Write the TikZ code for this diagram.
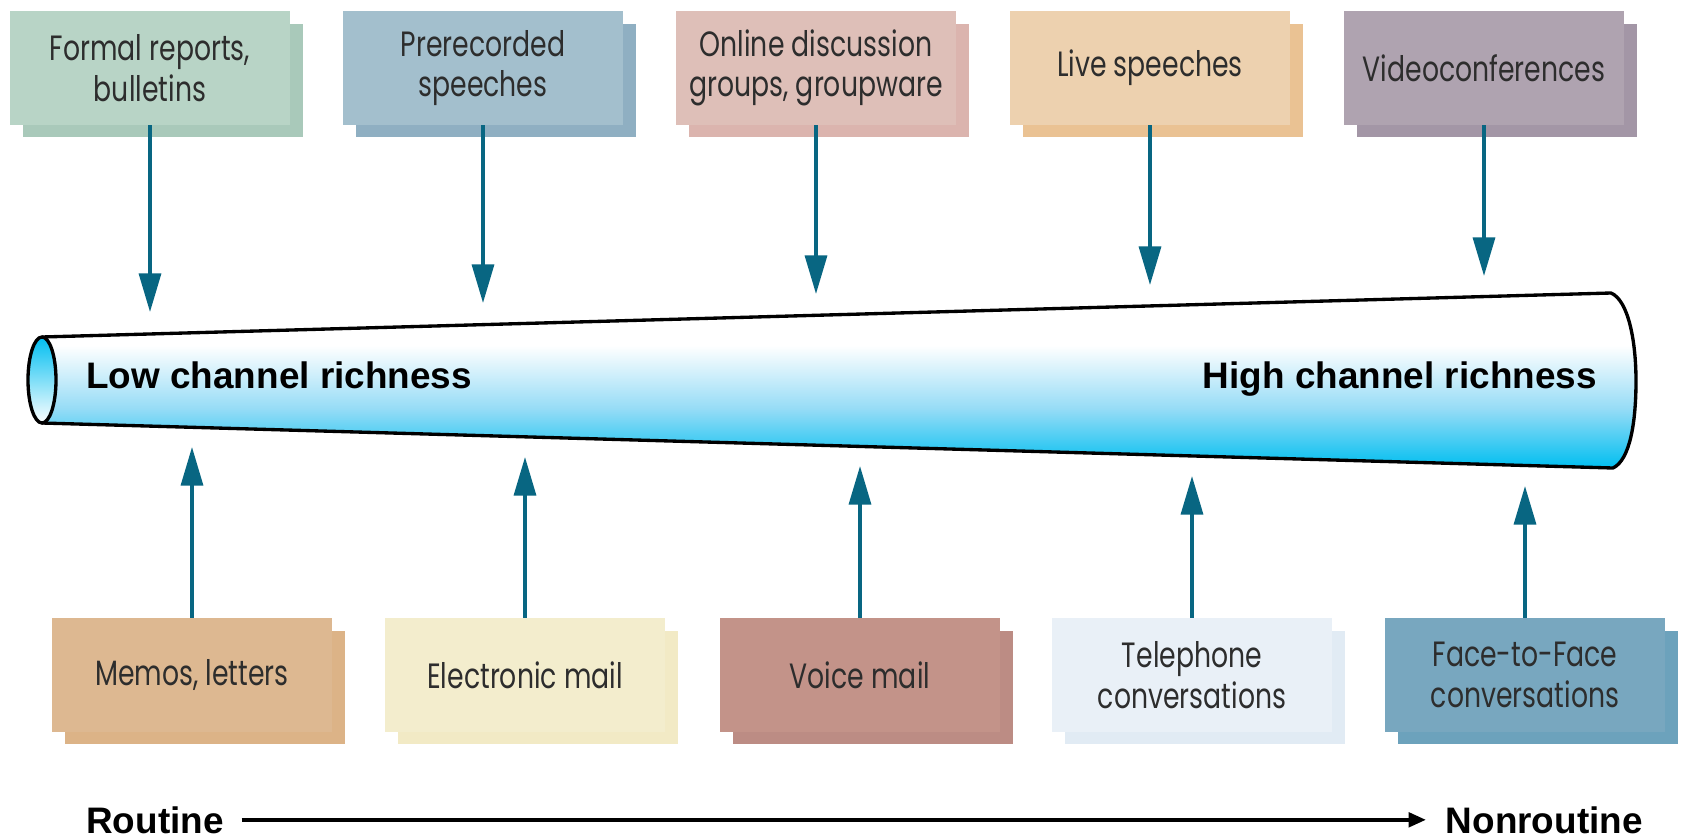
\documentclass[tikz,border=0pt]{standalone}
\usepackage{fontspec}
\setmainfont{Liberation Sans}
\newfontfamily\boxfont[FakeStretch=0.76]{Poppins}
\usepackage{tikz}
\usetikzlibrary{arrows.meta, shadows, positioning, calc}
\definecolor{arrowteal}{RGB}{8,102,130}
\definecolor{tubecyan}{RGB}{0,190,240}
\definecolor{tubemid}{RGB}{150,220,246}
\definecolor{boxtext}{RGB}{45,45,45}
\definecolor{formalC}{RGB}{184,212,198}
\definecolor{formalS}{RGB}{141,183,163}
\definecolor{prerecC}{RGB}{163,191,205}
\definecolor{prerecS}{RGB}{106,149,174}
\definecolor{onlineC}{RGB}{222,191,184}
\definecolor{onlineS}{RGB}{207,156,148}
\definecolor{liveC}{RGB}{237,209,175}
\definecolor{liveS}{RGB}{227,174,112}
\definecolor{videoC}{RGB}{175,163,176}
\definecolor{videoS}{RGB}{133,116,137}
\definecolor{memoC}{RGB}{221,184,145}
\definecolor{memoS}{RGB}{209,154,95}
\definecolor{emailC}{RGB}{243,237,205}
\definecolor{emailS}{RGB}{238,228,178}
\definecolor{voiceC}{RGB}{195,147,137}
\definecolor{voiceS}{RGB}{166,102,92}
\definecolor{phoneC}{RGB}{233,240,247}
\definecolor{phoneS}{RGB}{215,229,241}
\definecolor{faceC}{RGB}{120,167,191}
\definecolor{faceS}{RGB}{60,131,166}
\pgfdeclareverticalshading{tubefill}{100bp}{color(0bp)=(tubecyan); color(25bp)=(tubecyan); color(42bp)=(tubemid); color(60bp)=(white); color(100bp)=(white)}

\begin{document}
\begin{tikzpicture}[x=0.02cm, y=-0.02cm,
  chanbox/.style 2 args={fill=#1, minimum width=5.62cm, minimum height=2.28cm,
    align=center, text=boxtext, inner sep=0pt,
    font=\boxfont\fontsize{20}{23}\selectfont,
    drop shadow={shadow xshift=0.26cm, shadow yshift=-0.25cm, fill=#2, opacity=0.75}},
  chanarrow/.style={arrowteal, line width=2pt, -{Triangle[length=22pt, width=12.5pt]}},
  richlabel/.style={font=\fontsize{21}{25}\selectfont\bfseries, inner sep=0pt}]
\useasboundingbox[fill=white] (0,0) rectangle (1685,839);
% Channel tube
\draw[shade, shading=tubefill, line width=1.9pt, line join=round]
  (42,337) -- (1611,293) .. controls (1628,300) and (1636,340) .. (1636,381)
  .. controls (1636,422) and (1630,460) .. (1613,468) -- (42,423);
\draw[line width=1.9pt, top color=tubecyan, bottom color=white] (42,380) ellipse [x radius=14, y radius=43];
\node[richlabel, anchor=base west] (low) at (86,388) {Low channel richness};
\node[richlabel, anchor=base east] (high) at (1597,388) {High channel richness};
% Upper channels
\node[chanbox={formalC}{formalS}] (formal) at (150,68) {Formal reports,\\bulletins};
\node[chanbox={prerecC}{prerecS}] (prerec) at (483,68) {Prerecorded\\speeches};
\node[chanbox={onlineC}{onlineS}] (online) at (816,68) {Online discussion\\groups, groupware};
\node[chanbox={liveC}{liveS}] (live) at (1150,68) {Live speeches};
\node[chanbox={videoC}{videoS}] (video) at (1484,68) {Videoconferences};
% Lower channels
\node[chanbox={memoC}{memoS}] (memo) at (192,675) {Memos, letters};
\node[chanbox={emailC}{emailS}] (email) at (525,675) {Electronic mail};
\node[chanbox={voiceC}{voiceS}] (voice) at (860,675) {Voice mail};
\node[chanbox={phoneC}{phoneS}] (phone) at (1192,675) {Telephone\\conversations};
\node[chanbox={faceC}{faceS}] (face) at (1525,675) {Face-to-Face\\conversations};
% Arrow ends at the tube
\coordinate (formal-tip) at (150,312);
\coordinate (prerec-tip) at (483,303);
\coordinate (online-tip) at (816,294);
\coordinate (live-tip) at (1150,285);
\coordinate (video-tip) at (1484,276);
\coordinate (memo-tip) at (192,447);
\coordinate (email-tip) at (525,457);
\coordinate (voice-tip) at (860,466);
\coordinate (phone-tip) at (1192,476);
\coordinate (face-tip) at (1525,486);
\draw[chanarrow] (formal) -- (formal-tip);
\draw[chanarrow] (prerec) -- (prerec-tip);
\draw[chanarrow] (online) -- (online-tip);
\draw[chanarrow] (live) -- (live-tip);
\draw[chanarrow] (video) -- (video-tip);
\draw[chanarrow] (memo) -- (memo-tip);
\draw[chanarrow] (email) -- (email-tip);
\draw[chanarrow] (voice) -- (voice-tip);
\draw[chanarrow] (phone) -- (phone-tip);
\draw[chanarrow] (face) -- (face-tip);
% Routine scale
\node[richlabel, anchor=base west] (routine) at (86,833) {Routine};
\node[richlabel, anchor=base east] (nonroutine) at (1643,833) {Nonroutine};
\draw[line width=2.5pt, shorten <=10pt, shorten >=11pt, -{Triangle[length=10pt, width=8pt]}] (routine) -- (nonroutine);
\end{tikzpicture}
\end{document}
